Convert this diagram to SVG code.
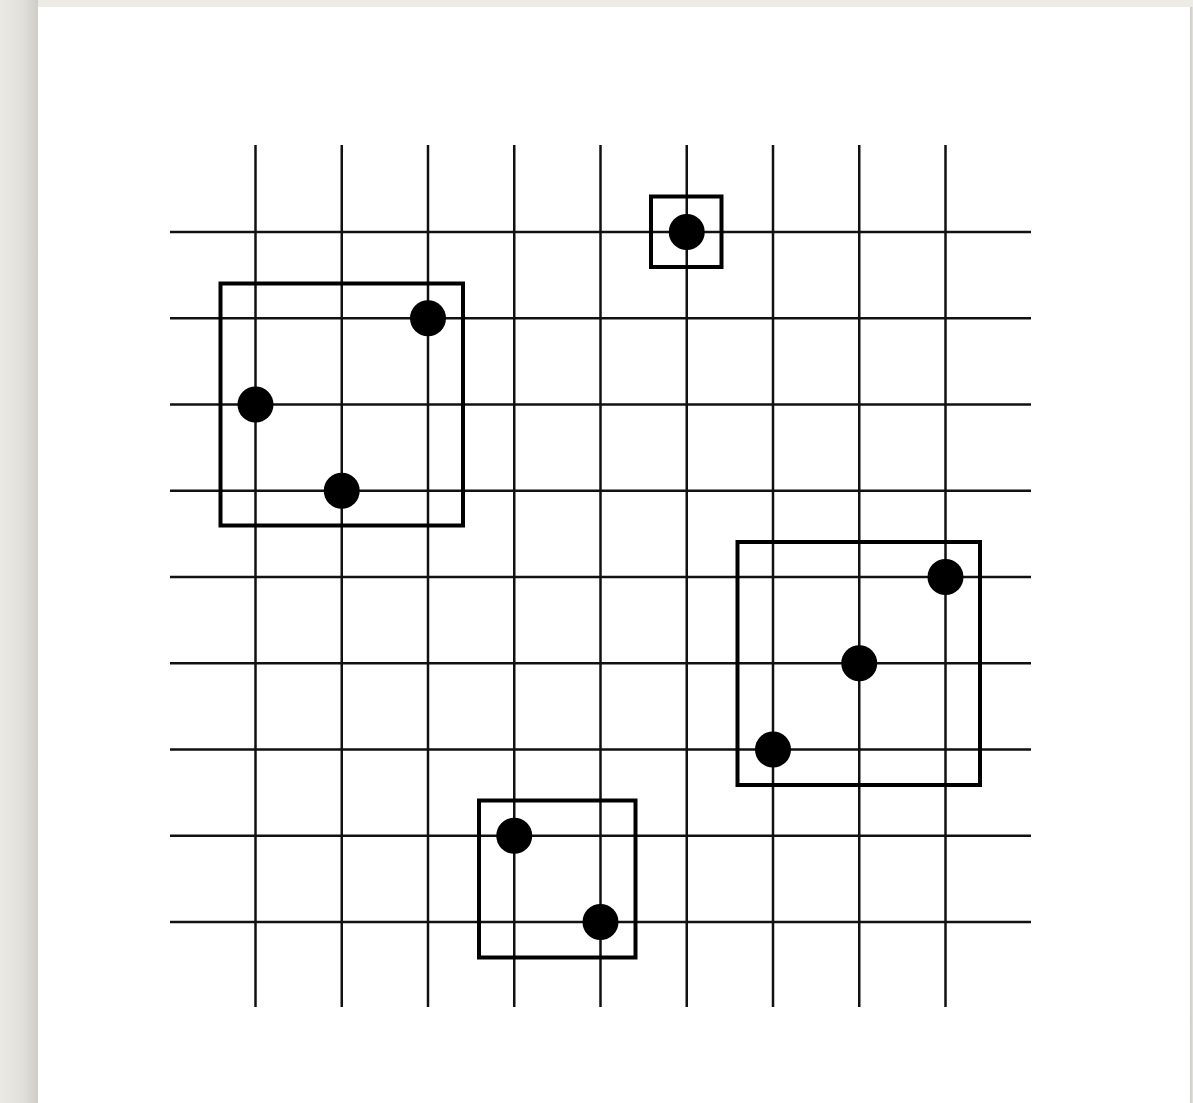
<svg xmlns="http://www.w3.org/2000/svg" width="1193" height="1103" viewBox="0 0 1193 1103">
<defs>
<linearGradient id="shL" x1="0" y1="0" x2="1" y2="0">
<stop offset="0" stop-color="#ebe9e4"/>
<stop offset="0.6" stop-color="#e2e0db"/>
<stop offset="1" stop-color="#cfcdc8"/>
</linearGradient>
<linearGradient id="shR" x1="0" y1="0" x2="1" y2="0">
<stop offset="0" stop-color="#c9c7c2"/>
<stop offset="1" stop-color="#e6e4df"/>
</linearGradient>
<style>
.grid line{stroke:#111;stroke-width:2.5}
.box{fill:none;stroke:#000;stroke-width:4}
.dot{fill:#000}
</style>
</defs>
<rect x="0" y="0" width="1193" height="1103" fill="#ecebe6"/>
<rect x="0" y="0" width="38" height="1103" fill="url(#shL)"/>
<rect x="1190" y="7" width="3" height="1096" fill="url(#shR)"/>
<rect x="38" y="7" width="1152" height="1096" fill="#ffffff"/>
<g id="grid" class="grid">
<line x1="255.5" y1="145" x2="255.5" y2="1007"/>
<line x1="341.75" y1="145" x2="341.75" y2="1007"/>
<line x1="428" y1="145" x2="428" y2="1007"/>
<line x1="514.25" y1="145" x2="514.25" y2="1007"/>
<line x1="600.5" y1="145" x2="600.5" y2="1007"/>
<line x1="686.75" y1="145" x2="686.75" y2="1007"/>
<line x1="773" y1="145" x2="773" y2="1007"/>
<line x1="859.25" y1="145" x2="859.25" y2="1007"/>
<line x1="945.5" y1="145" x2="945.5" y2="1007"/>
<line x1="170" y1="232" x2="1031" y2="232"/>
<line x1="170" y1="318.25" x2="1031" y2="318.25"/>
<line x1="170" y1="404.5" x2="1031" y2="404.5"/>
<line x1="170" y1="490.75" x2="1031" y2="490.75"/>
<line x1="170" y1="577" x2="1031" y2="577"/>
<line x1="170" y1="663.25" x2="1031" y2="663.25"/>
<line x1="170" y1="749.5" x2="1031" y2="749.5"/>
<line x1="170" y1="835.75" x2="1031" y2="835.75"/>
<line x1="170" y1="922" x2="1031" y2="922"/>
</g>
<g id="cluster-top-left">
<rect class="box" x="220.5" y="283.5" width="242.5" height="242"/>
<circle class="dot" cx="428" cy="318.25" r="18"/>
<circle class="dot" cx="255.5" cy="404.5" r="18"/>
<circle class="dot" cx="341.75" cy="490.75" r="18"/>
</g>
<g id="cluster-top">
<rect class="box" x="651" y="196.5" width="70.5" height="70.5"/>
<circle class="dot" cx="686.75" cy="232" r="18"/>
</g>
<g id="cluster-right">
<rect class="box" x="737.5" y="542" width="242.5" height="243"/>
<circle class="dot" cx="945.5" cy="577" r="18"/>
<circle class="dot" cx="859.25" cy="663.25" r="18"/>
<circle class="dot" cx="773" cy="749.5" r="18"/>
</g>
<g id="cluster-bottom">
<rect class="box" x="479" y="800.5" width="156.5" height="157"/>
<circle class="dot" cx="514.25" cy="835.75" r="18"/>
<circle class="dot" cx="600.5" cy="922" r="18"/>
</g>
<g id="connectors"/>
</svg>
